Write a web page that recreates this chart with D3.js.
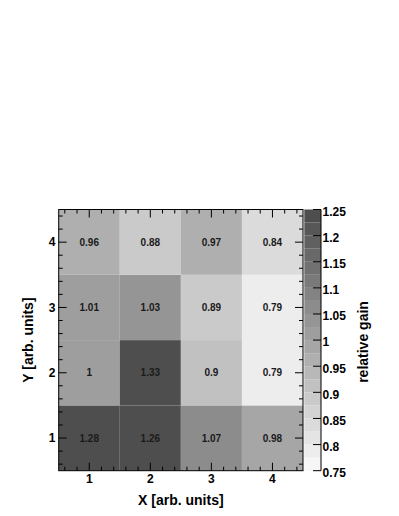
<!DOCTYPE html>
<html><head><meta charset="utf-8">
<script src="https://cdn.jsdelivr.net/npm/d3@7"></script>
<style>body{margin:0;background:#fff}svg{display:block}text{font-family:"Liberation Sans",Arial,sans-serif}</style>
</head><body>
<svg id="c" width="399" height="516"></svg>
<script>
const xCats = [1, 2, 3, 4];
const yCats = [1, 2, 3, 4];
// gains[row y][col x]
const gainRow1 = [1.28, 1.26, 1.07, 0.98];
const gainRow2 = [1.00, 1.33, 0.90, 0.79];
const gainRow3 = [1.01, 1.03, 0.89, 0.79];
const gainRow4 = [0.96, 0.88, 0.97, 0.84];
const gainLabels = [["1.28","1.26","1.07","0.98"],["1","1.33","0.9","0.79"],["1.01","1.03","0.89","0.79"],["0.96","0.88","0.97","0.84"]];
const zTicks = [0.75, 0.8, 0.85, 0.9, 0.95, 1, 1.05, 1.1, 1.15, 1.2, 1.25];
const zTickLabels = ["0.75","0.8","0.85","0.9","0.95","1","1.05","1.1","1.15","1.2","1.25"];
const zMin = 0.75, zMax = 1.25, nBands = 20;

const rows = [gainRow1, gainRow2, gainRow3, gainRow4];
const cells = [];
rows.forEach((r, j) => r.forEach((v, i) => cells.push({x: xCats[i], y: yCats[j], v, label: gainLabels[j][i]})));

const L = 58.7, R = 303, T = 209.5, B = 470.7;
const x = d3.scaleLinear().domain([0.5, 4.5]).range([L, R]);
const y = d3.scaleLinear().domain([0.5, 4.5]).range([B, T]);
const z = d3.scaleLinear().domain([zMin, zMax]).range([B, T]);
const grayOf = d3.scaleLinear().domain([0, nBands - 1]).range([246, 78]);
function color(v) {
  let b = Math.floor((v - zMin) / (zMax - zMin) * nBands);
  b = Math.max(0, Math.min(nBands - 1, b));
  const g = Math.round(grayOf(b));
  return `rgb(${g},${g},${g})`;
}

const svg = d3.select("#c");
const g = svg.append("g");

g.selectAll("rect.cell").data(cells).join("rect")
  .attr("x", d => x(d.x - 0.5)).attr("y", d => y(d.y + 0.5))
  .attr("width", d => x(d.x + 0.5) - x(d.x - 0.5))
  .attr("height", d => y(d.y - 0.5) - y(d.y + 0.5))
  .attr("fill", d => color(d.v));

g.selectAll("text.cell").data(cells).join("text")
  .attr("x", d => x(d.x)).attr("y", d => y(d.y) + 3.5)
  .attr("text-anchor", "middle").attr("font-size", 10).attr("font-weight", "bold")
  .attr("fill", "#1a1a1a").text(d => d.label);

// axes
const major = xCats;
const minor = d3.range(0.6, 4.5, 0.2).filter(v => Math.abs(v - Math.round(v)) > 0.01);
const tickStyle = s => s.attr("stroke", "#000").attr("stroke-width", 1);
// bottom & top
[[B, -1], [T, 1]].forEach(([yy, dir]) => {
  g.selectAll(null).data(major).join("line").attr("x1", d => x(d)).attr("x2", d => x(d))
    .attr("y1", yy).attr("y2", yy + dir * 8).call(tickStyle);
  g.selectAll(null).data(minor).join("line").attr("x1", d => x(d)).attr("x2", d => x(d))
    .attr("y1", yy).attr("y2", yy + dir * 4).call(tickStyle);
});
// left & right
[[L, 1], [R, -1]].forEach(([xx, dir]) => {
  g.selectAll(null).data(major).join("line").attr("y1", d => y(d)).attr("y2", d => y(d))
    .attr("x1", xx).attr("x2", xx + dir * 8).call(tickStyle);
  g.selectAll(null).data(minor).join("line").attr("y1", d => y(d)).attr("y2", d => y(d))
    .attr("x1", xx).attr("x2", xx + dir * 4).call(tickStyle);
});
g.append("rect").attr("x", L).attr("y", T).attr("width", R - L).attr("height", B - T)
  .attr("fill", "none").attr("stroke", "#000").attr("stroke-width", 1);

g.selectAll(null).data(xCats).join("text").attr("x", d => x(d)).attr("y", 483)
  .attr("text-anchor", "middle").attr("font-size", 12).attr("font-weight", "bold").text(d => d);
g.selectAll(null).data(yCats).join("text").attr("x", 55.5).attr("y", d => y(d) + 4.3)
  .attr("text-anchor", "end").attr("font-size", 12).attr("font-weight", "bold").text(d => d);

g.append("text").attr("x", (L + R) / 2).attr("y", 505).attr("text-anchor", "middle")
  .attr("font-size", 14).attr("font-weight", "bold").text("X [arb. units]");
g.append("text").attr("transform", `translate(32.5,${(T + B) / 2}) rotate(-90)`).attr("text-anchor", "middle")
  .attr("font-size", 14).attr("font-weight", "bold").text("Y [arb. units]");

// colour bar
const CL = 304.3, CR = 321;
const bands = d3.range(nBands).map(i => zMin + (i + 0.5) * (zMax - zMin) / nBands);
const bw = (zMax - zMin) / nBands;
g.selectAll(null).data(bands).join("rect")
  .attr("x", CL).attr("width", CR - CL)
  .attr("y", d => z(d + bw / 2)).attr("height", d => z(d - bw / 2) - z(d + bw / 2))
  .attr("fill", d => color(d));
g.append("line").attr("x1", CR).attr("x2", CR).attr("y1", T).attr("y2", B).call(tickStyle);
g.selectAll(null).data(zTicks).join("line").attr("x1", CR).attr("x2", CR - 8)
  .attr("y1", d => z(d)).attr("y2", d => z(d)).call(tickStyle);
g.selectAll(null).data(zTicks).join("text").attr("x", 322.5).attr("y", (d, i) => z(d) + 6.3)
  .attr("font-size", 12).attr("font-weight", "bold").text((d, i) => zTickLabels[i]);
g.append("text").attr("transform", `translate(368,342) rotate(-90)`).attr("text-anchor", "middle")
  .attr("font-size", 14).attr("font-weight", "bold").text("relative gain");
</script>
</body></html>
